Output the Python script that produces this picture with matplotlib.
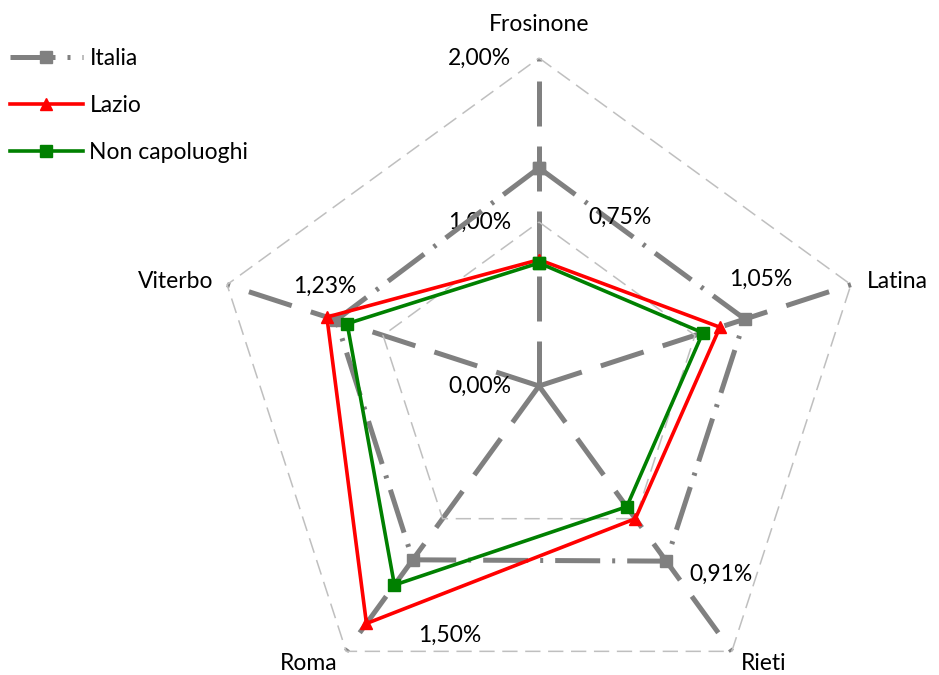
import numpy as np
import matplotlib.pyplot as plt

plt.rcParams['font.family'] = ['Lato', 'DejaVu Sans']

# Provinces around the radar, clockwise from the top
provinces = ['Frosinone', 'Latina', 'Rieti', 'Roma', 'Viterbo']

# Values in percent
italia = [1.33, 1.32, 1.32, 1.31, 1.30]
lazio = [0.77, 1.16, 1.00, 1.79, 1.36]
non_capoluoghi = [0.75, 1.05, 0.91, 1.50, 1.23]

r_ticks = [0.0, 1.0, 2.0]
r_max = 2.0

angles = np.radians(90 - 72 * np.arange(len(provinces)))
fs = 16.5


def to_xy(values):
    v = np.asarray(values, dtype=float)
    return v * np.cos(angles), v * np.sin(angles)


def closed(a):
    return np.append(a, a[0])


fig = plt.figure(figsize=(9.39, 6.75), dpi=100)
ax = fig.add_axes([0, 0, 1, 1])
scale = 164.0  # pixels per percent
cx, cy = 539.0, 386.0
ax.set_xlim(-cx / scale, (939 - cx) / scale)
ax.set_ylim(-(675 - cy) / scale, cy / scale)
ax.set_axis_off()

grey = '#808080'

# radial axes
for a in angles:
    ax.plot([0, r_max * np.cos(a)], [0, r_max * np.sin(a)], color=grey,
            lw=3.6, dashes=(9, 4), solid_capstyle='butt', zorder=1)

# pentagon gridlines
for r in r_ticks[1:]:
    gx, gy = to_xy([r] * len(provinces))
    ax.plot(closed(gx), closed(gy), color='#BFBFBF', lw=1.1,
            dashes=(10, 5), zorder=2)

# tick labels
for r in r_ticks:
    ax.annotate(f'{r:.2f}%'.replace('.', ','), (0, r), xytext=(-28, 0),
                textcoords='offset pixels', ha='right', va='center',
                fontsize=fs)

# province labels
label_offsets = [(0, 33, 'center'), (16, 3, 'left'), (9, -12, 'left'),
                 (-9, -12, 'right'), (-14, 3, 'right')]
vx, vy = to_xy([r_max] * len(provinces))
for name, x, y, (ox, oy, ha) in zip(provinces, vx, vy, label_offsets):
    ax.annotate(name, (x, y), xytext=(ox, oy), textcoords='offset pixels',
                ha=ha, va='center', fontsize=fs)

# series
ix, iy = to_xy(italia)
ax.plot(closed(ix), closed(iy), color=grey, lw=3.6, dashes=(9, 2.4, 0.6, 2.4),
        marker='s', markersize=8, label='Italia', zorder=3)
lx, ly = to_xy(lazio)
ax.plot(closed(lx), closed(ly), color='#FF0000', lw=2.6, marker='^',
        markersize=9, label='Lazio', zorder=4)
nx, ny = to_xy(non_capoluoghi)
ax.plot(closed(nx), closed(ny), color='#008000', lw=2.6, marker='s',
        markersize=8, label='Non capoluoghi', zorder=5)

# data labels for Non capoluoghi
dl_offsets = [(81, 46), (58, 53), (94, -68), (55, -50), (-22, 37)]
for v, x, y, (ox, oy) in zip(non_capoluoghi, nx, ny, dl_offsets):
    ax.annotate(f'{v:.2f}%'.replace('.', ','), (x, y), xytext=(ox, oy),
                textcoords='offset pixels', ha='center', va='center',
                fontsize=fs)

ax.legend(loc='upper left', bbox_to_anchor=(0.0, 1 - 38 / 675),
          frameon=False, fontsize=fs, handlelength=3.15, handletextpad=0.3,
          labelspacing=1.12, borderpad=0, borderaxespad=0.45, numpoints=1)

fig.savefig('out.png', dpi=100)
